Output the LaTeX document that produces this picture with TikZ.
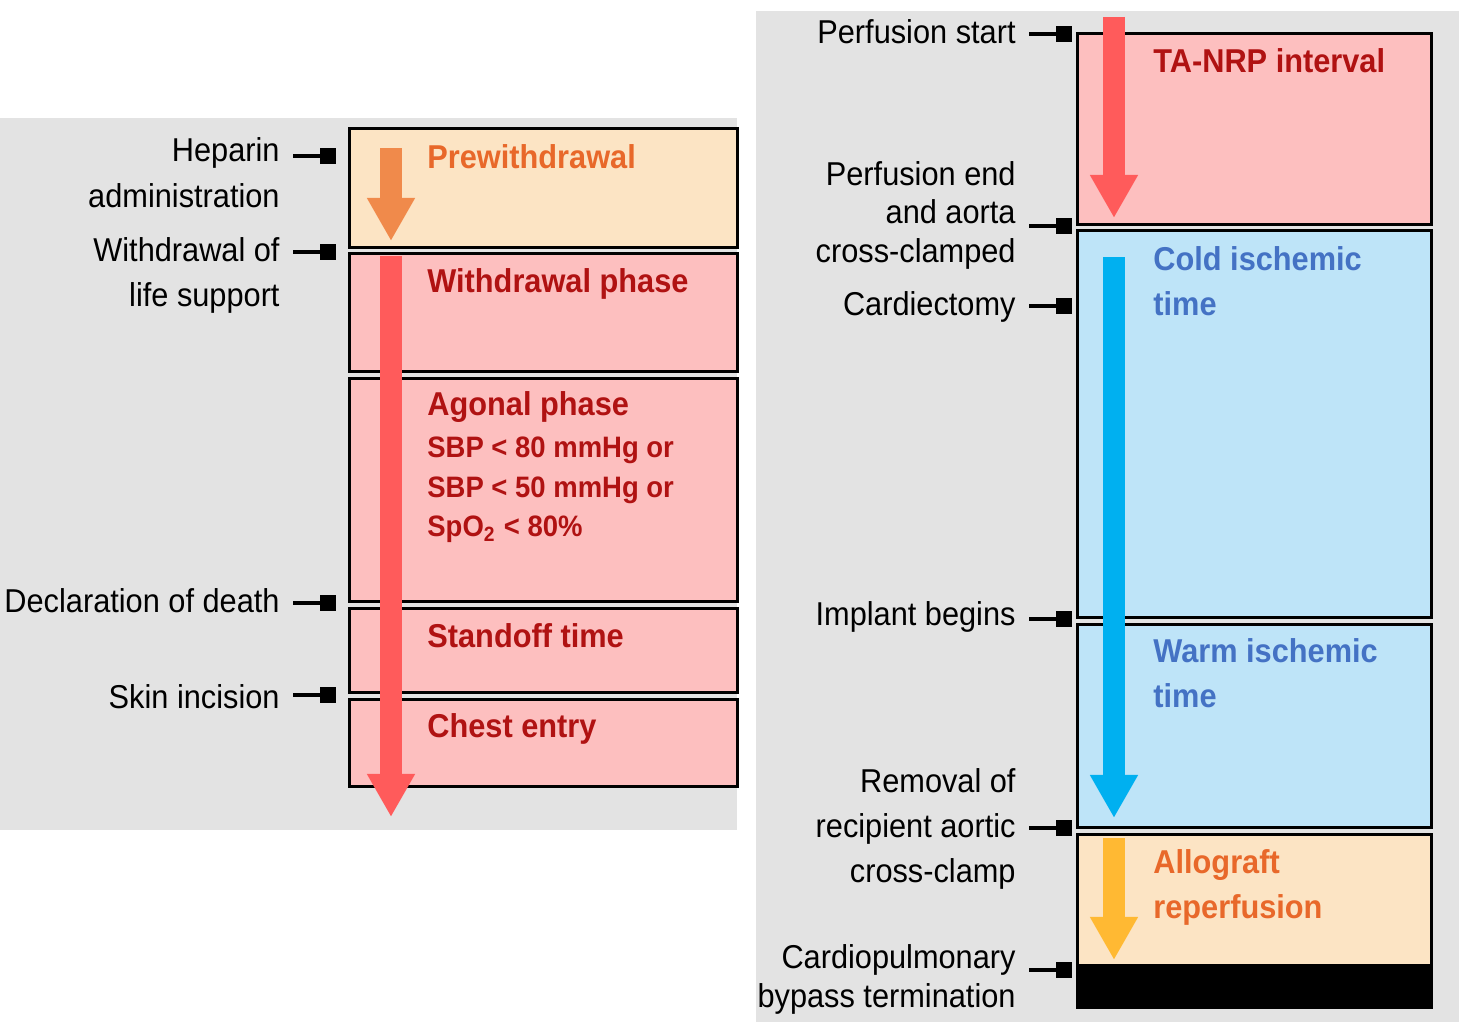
\documentclass[tikz,border=0pt]{standalone}
\usepackage{fontspec}
\setmainfont{Liberation Sans}[FakeStretch=0.93]
\usetikzlibrary{arrows.meta, positioning, calc}
\definecolor{cpanel}{HTML}{E3E3E3}
\definecolor{cpeach}{HTML}{FCE4C4}
\definecolor{cpink}{HTML}{FDBFBF}
\definecolor{csky}{HTML}{BEE4F8}
\definecolor{cdarkred}{HTML}{B01212}
\definecolor{corangetxt}{HTML}{E8682A}
\definecolor{cbluetxt}{HTML}{4472C4}
\definecolor{corangearr}{HTML}{F08A4B}
\definecolor{credarr}{HTML}{FF5B5B}
\definecolor{cbluearr}{HTML}{00B0F0}
\definecolor{cyellowarr}{HTML}{FFB933}
\tikzset{
  every picture/.style={line width=0.8pt},
  phase/.style={draw=black, fill=#1, anchor=north west, inner sep=0pt},
  phase/.default=cpink,
  donor/.style={minimum width=3.88cm},
  recip/.style={minimum width=3.54cm},
  flow/.style={draw=#1, line width=0.22cm, -{Triangle[width=0.45cm, length=0.43cm]}},
  title/.style={font=\fontsize{9.4}{12.7}\selectfont\bfseries, text=#1, align=left, anchor=base west, inner sep=0pt},
  crit/.style={font=\fontsize{8.4}{11.3}\selectfont\bfseries, text=cdarkred, align=left, anchor=base west, inner sep=0pt},
  event/.style={font=\fontsize{9.4}{12.8}\selectfont, align=right, anchor=base east, inner sep=0pt},
  eventtight/.style={event, font=\fontsize{9.4}{10.9}\selectfont},
  stub/.style={fill=black, minimum size=0.15cm, inner sep=0pt},
  tick/.style={line width=1pt, shorten >=0.12cm},
}
\begin{document}
\begin{tikzpicture}[x=0.01cm, y=-0.01cm]
  \useasboundingbox (0,0) rectangle (1459,1024);
  \fill[cpanel] (0,118) rectangle (737,830);
  \fill[cpanel] (756,11) rectangle (1459,1022);

  % donor procurement (multi-line nodes sit on their last baseline)
  \node[phase=cpeach, donor, minimum height=1.19cm] (pre) at (348,127) {};
  \node[phase, donor, minimum height=1.18cm] (wd) at (348,252) {};
  \node[phase, donor, minimum height=2.23cm] (agon) at (348,377) {};
  \node[phase, donor, minimum height=0.84cm] (stand) at (348,607) {};
  \node[phase, donor, minimum height=0.87cm] (chest) at (348,698) {};
  \draw[flow=corangearr] (391,148) -- (391,241);
  \draw[flow=credarr] (391,256) -- (391,817);
  \node[title=corangetxt] (pre-t) at (426,169) {Prewithdrawal};
  \node[title=cdarkred] (wd-t) at (426,292) {Withdrawal phase};
  \node[title=cdarkred] (agon-t) at (426,416) {Agonal phase};
  \node[crit] (agon-c) at (426,537) {SBP < 80 mmHg or\\SBP < 50 mmHg or\\SpO\textsubscript{2} < 80\%};
  \node[title=cdarkred] (stand-t) at (426,647) {Standoff time};
  \node[title=cdarkred] (chest-t) at (426,737) {Chest entry};

  \node[event] (hep) at (281,207) {Heparin\\administration};
  \node[event] (wls) at (281,307) {Withdrawal of\\life support};
  \node[event] (dec) at (281,613) {Declaration of death};
  \node[event] (skin) at (281,708) {Skin incision};
  \foreach \lbl/\yy in {hep/156, wls/252, dec/603, skin/695} {
    \node[stub] (m-\lbl) at (328,\yy) {};
    \draw[tick] (m-\lbl.center) -- (m-\lbl.center -| \lbl.east);
  }

  % recipient implant
  \node[phase, recip, minimum height=1.91cm] (tanrp) at (1076,32) {};
  \node[phase=csky, recip, minimum height=3.87cm] (cold) at (1076,229) {};
  \node[phase=csky, recip, minimum height=2.03cm] (warm) at (1076,623) {};
  \node[phase=cpeach, recip, minimum height=1.73cm] (allo) at (1076,833) {};
  \fill[black] (1076,964) rectangle (allo.south east);
  \draw[flow=credarr] (1114,17) -- (1114,218);
  \draw[flow=cbluearr] (1114,257) -- (1114,818);
  \draw[flow=cyellowarr] (1114,838) -- (1114,960);
  \node[title=cdarkred] (tanrp-t) at (1152,72) {TA-NRP interval};
  \node[title=cbluetxt] (cold-t) at (1152,315) {Cold ischemic\\time};
  \node[title=cbluetxt] (warm-t) at (1152,707) {Warm ischemic\\time};
  \node[title=corangetxt] (allo-t) at (1152,918) {Allograft\\reperfusion};

  \node[event] (pst) at (1017,44) {Perfusion start};
  \node[eventtight] (pend) at (1017,262) {Perfusion end\\and aorta\\cross-clamped};
  \node[event] (card) at (1017,315) {Cardiectomy};
  \node[event] (impl) at (1017,625) {Implant begins};
  \node[event] (rem) at (1017,883) {Removal of\\recipient aortic\\cross-clamp};
  \node[eventtight] (cpb) at (1017,1007) {Cardiopulmonary\\bypass termination};
  \foreach \lbl/\yy in {pst/34, pend/226, card/306, impl/619, rem/828, cpb/970} {
    \node[stub] (m-\lbl) at (1064,\yy) {};
    \draw[tick] (m-\lbl.center) -- (m-\lbl.center -| \lbl.east);
  }
\end{tikzpicture}
\end{document}
